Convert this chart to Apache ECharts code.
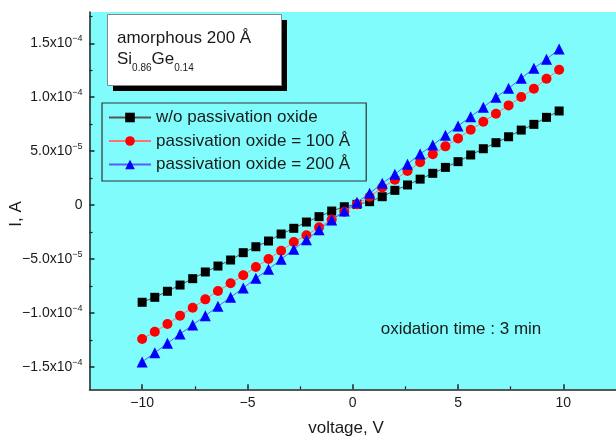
<!DOCTYPE html>
<html>
<head>
<meta charset="utf-8">
<script src="https://cdn.jsdelivr.net/npm/echarts@6/dist/echarts.min.js"></script>
<style>
html,body{margin:0;padding:0;background:#fff;}
#chart{width:616px;height:439px;}
</style>
</head>
<body>
<div id="chart"></div>
<script>
// Data
const voltage = [-10, -9.4, -8.8, -8.2, -7.6, -7.0, -6.4, -5.8, -5.2, -4.6, -4.0, -3.4, -2.8, -2.2, -1.6, -1.0, -0.4,
  0.2, 0.8, 1.4, 2.0, 2.6, 3.2, 3.8, 4.4, 5.0, 5.6, 6.2, 6.8, 7.4, 8.0, 8.6, 9.2, 9.8];
const currentNoOxide = [-9.02e-5, -8.56e-5, -8.00e-5, -7.42e-5, -6.83e-5, -6.21e-5, -5.66e-5, -5.10e-5, -4.42e-5, -3.87e-5,
  -3.34e-5, -2.69e-5, -2.16e-5, -1.58e-5, -1.08e-5, -0.56e-5, -0.16e-5, 0.06e-5, 0.31e-5, 0.77e-5, 1.36e-5, 1.86e-5,
  2.40e-5, 2.94e-5, 3.49e-5, 4.02e-5, 4.64e-5, 5.22e-5, 5.78e-5, 6.33e-5, 6.95e-5, 7.48e-5, 8.13e-5, 8.72e-5];
const currentOxide100 = [-12.43e-5, -11.75e-5, -11.04e-5, -10.26e-5, -9.52e-5, -8.75e-5, -7.97e-5, -7.26e-5, -6.52e-5, -5.75e-5,
  -5.01e-5, -4.24e-5, -3.43e-5, -2.80e-5, -2.07e-5, -1.35e-5, -0.62e-5, 0.06e-5, 0.77e-5, 1.62e-5, 2.35e-5, 3.15e-5,
  3.96e-5, 4.70e-5, 5.44e-5, 6.18e-5, 6.98e-5, 7.72e-5, 8.47e-5, 9.24e-5, 10.01e-5, 10.78e-5, 11.71e-5, 12.55e-5];
const currentOxide200 = [-14.55e-5, -13.70e-5, -12.82e-5, -11.96e-5, -11.13e-5, -10.26e-5, -9.39e-5, -8.56e-5, -7.70e-5, -6.80e-5,
  -5.96e-5, -5.04e-5, -4.11e-5, -3.23e-5, -2.30e-5, -1.39e-5, -0.56e-5, 0.25e-5, 1.08e-5, 2.01e-5, 2.85e-5, 3.79e-5,
  4.73e-5, 5.56e-5, 6.46e-5, 7.33e-5, 8.19e-5, 9.06e-5, 9.99e-5, 10.82e-5, 11.75e-5, 12.68e-5, 13.51e-5, 14.47e-5];
const seriesNames = ['w/o passivation oxide', 'passivation oxide = 100 Å', 'passivation oxide = 200 Å'];
const xTicks = [-10, -5, 0, 5, 10];
const xMinorTicks = [-7.5, -2.5, 2.5, 7.5];
const yTicks = [-1.5e-4, -1.0e-4, -5.0e-5, 0, 5.0e-5, 1.0e-4, 1.5e-4];
const yMinorTicks = [-1.25e-4, -7.5e-5, -2.5e-5, 2.5e-5, 7.5e-5, 1.25e-4, 1.75e-4];
const xRange = [-12.5, 12.5];
const yRange = [-1.709e-4, 1.79e-4];

const FONT = '"Liberation Sans", Arial, Helvetica, sans-serif';
const TXT = '#1a1a1a';

function yLabel(v) {
  if (Math.abs(v) < 1e-12) return '{a|0}';
  const e = Math.floor(Math.log10(Math.abs(v)) + 1e-9);
  const m = (Math.abs(v) / Math.pow(10, e)).toFixed(1);
  return '{a|' + (v < 0 ? '\u2212' : '') + m + 'x10}{s|\u2212' + (-e) + '}';
}
function xLabel(v) {
  return v < 0 ? '\u2212' + Math.abs(v) : String(v);
}
function pairs(ys) { return voltage.map((x, i) => [x, ys[i]]); }

const chart = echarts.init(document.getElementById('chart'), null, {renderer: 'canvas'});
const gridBox = {left: 89.5, top: 12, right: 0, bottom: 49.7};

function tickX(grid, values, len, width) {
  return {
    type: 'value', gridIndex: grid, min: xRange[0], max: xRange[1], position: 'bottom',
    axisLine: {show: false, onZero: false},
    axisTick: {show: true, inside: true, length: len, customValues: values, lineStyle: {color: '#222', width: width}},
    axisLabel: {show: false}, splitLine: {show: false}
  };
}
function tickY(grid, values, len, width) {
  return {
    type: 'value', gridIndex: grid, min: yRange[0], max: yRange[1], position: 'left',
    axisLine: {show: false, onZero: false},
    axisTick: {show: true, inside: true, length: len, customValues: values, lineStyle: {color: '#222', width: width}},
    axisLabel: {show: false}, splitLine: {show: false}
  };
}

const option = {
  animation: false,
  backgroundColor: '#ffffff',
  textStyle: {fontFamily: FONT},
  grid: [
    Object.assign({show: true, backgroundColor: '#80fcfc', borderWidth: 0}, gridBox),
    Object.assign({show: false}, gridBox),
    Object.assign({show: false}, gridBox)
  ],
  xAxis: [{
    type: 'value', gridIndex: 0, min: xRange[0], max: xRange[1],
    axisLine: {show: true, onZero: false, lineStyle: {color: '#222', width: 1.5}},
    axisTick: {show: false},
    axisLabel: {customValues: xTicks, formatter: xLabel, fontSize: 14, color: TXT, margin: 7, fontFamily: FONT},
    splitLine: {show: false}
  }, tickX(1, xTicks, 5, 1.5), tickX(2, xMinorTicks, 3, 1.2)],
  yAxis: [{
    type: 'value', gridIndex: 0, min: yRange[0], max: yRange[1],
    axisLine: {show: true, onZero: false, lineStyle: {color: '#222', width: 1.5}},
    axisTick: {show: false},
    axisLabel: {
      customValues: yTicks, formatter: yLabel, margin: 7, color: TXT,
      rich: {
        a: {fontSize: 14, lineHeight: 18, color: TXT, fontFamily: FONT},
        s: {fontSize: 9, lineHeight: 9, verticalAlign: 'top', color: TXT, fontFamily: FONT}
      }
    },
    splitLine: {show: false}
  }, tickY(1, yTicks, 5, 1.5), tickY(2, yMinorTicks, 3, 1.2)],
  legend: {
    orient: 'vertical', left: 102, top: 103,
    padding: [6, 16, 8, 6], itemGap: 6.5,
    itemWidth: 42, itemHeight: 12,
    borderColor: '#333', borderWidth: 1.2, backgroundColor: 'transparent',
    textStyle: {fontSize: 17, color: TXT, fontFamily: FONT, lineHeight: 17},
    data: seriesNames
  },
  series: [{
    name: seriesNames[0], type: 'line', xAxisIndex: 0, yAxisIndex: 0, data: pairs(currentNoOxide),
    symbol: 'rect', symbolSize: 9, itemStyle: {color: '#000000'},
    lineStyle: {color: '#555555', width: 1}, z: 3
  }, {
    name: seriesNames[1], type: 'line', xAxisIndex: 0, yAxisIndex: 0, data: pairs(currentOxide100),
    symbol: 'circle', symbolSize: 10, itemStyle: {color: '#ff0000'},
    lineStyle: {color: '#ff7070', width: 1}, z: 4
  }, {
    name: seriesNames[2], type: 'line', xAxisIndex: 0, yAxisIndex: 0, data: pairs(currentOxide200),
    symbol: 'triangle', symbolSize: 11, itemStyle: {color: '#0000ff'},
    lineStyle: {color: '#5a5aff', width: 1}, z: 5
  }],
  graphic: [
    {type: 'rect', left: 113, top: 20, shape: {width: 174, height: 71}, style: {fill: '#000'}, z: 10},
    {type: 'rect', left: 107, top: 14, shape: {width: 174, height: 71}, style: {fill: '#fff', stroke: '#888', lineWidth: 1}, z: 11},
    {type: 'text', left: 117, top: 30, z: 12, style: {text: 'amorphous 200 Å', font: '17px ' + FONT, fill: TXT}},
    {type: 'text', left: 117, top: 51, z: 12, style: {
      text: '{m|Si}{b|0.86}{m|Ge}{b|0.14}', fill: TXT,
      rich: {
        m: {fontSize: 17, lineHeight: 20, verticalAlign: 'top', fontFamily: FONT, fill: TXT, color: TXT},
        b: {fontSize: 10, lineHeight: 10, padding: [12, 0, 0, 0], verticalAlign: 'top', fontFamily: FONT, fill: TXT, color: TXT}
      }
    }},
    {type: 'text', x: 461, y: 329, z: 12, style: {text: 'oxidation time : 3 min', font: '17px ' + FONT, fill: TXT, textAlign: 'center', textVerticalAlign: 'middle'}},
    {type: 'text', x: 346, y: 428, z: 12, style: {text: 'voltage, V', font: '17px ' + FONT, fill: TXT, textAlign: 'center', textVerticalAlign: 'middle'}},
    {type: 'text', x: 16, y: 214, rotation: Math.PI / 2, z: 12, style: {text: 'I, A', font: '17px ' + FONT, fill: TXT, textAlign: 'center', textVerticalAlign: 'middle'}}
  ]
};
chart.setOption(option);
</script>
</body>
</html>
